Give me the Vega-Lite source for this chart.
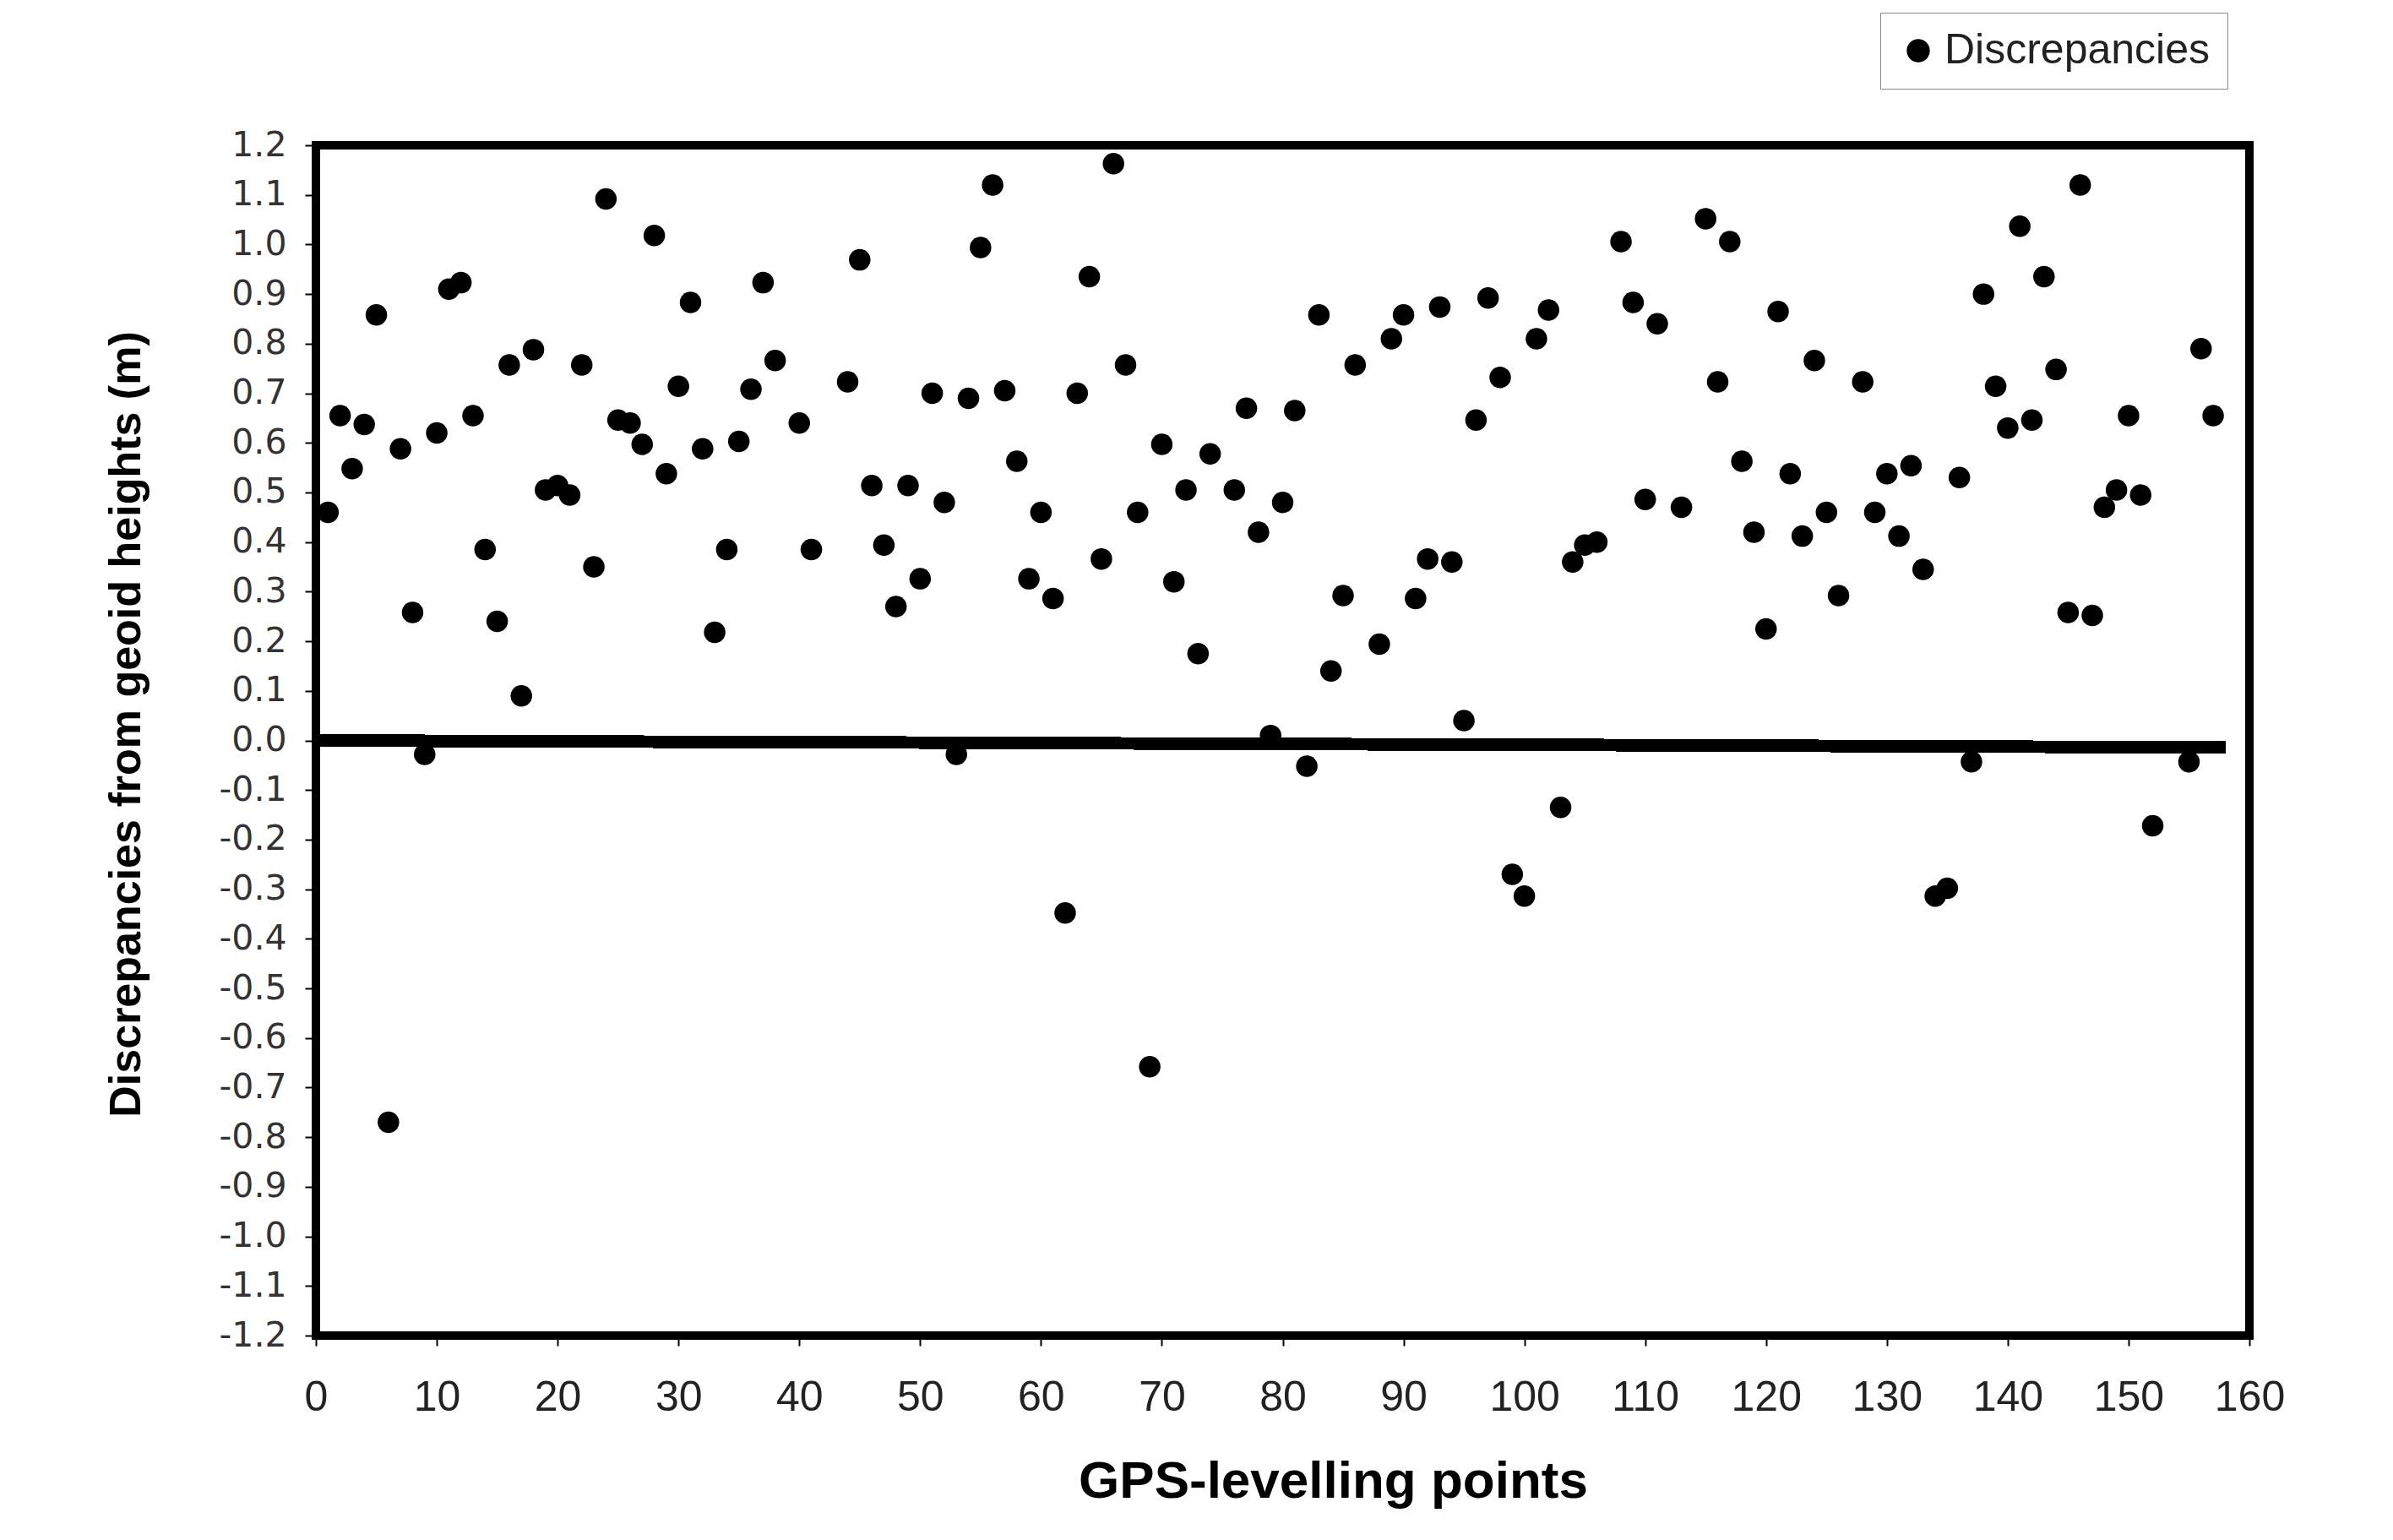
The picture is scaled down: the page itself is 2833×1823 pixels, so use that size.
{
  "$schema": "https://vega.github.io/schema/vega-lite/v6.json",
  "width": 2289,
  "height": 1409,
  "autosize": "none",
  "padding": {"left": 374, "top": 172, "right": 170, "bottom": 242},
  "background": "white",
  "config": {
    "view": {"stroke": "black", "strokeWidth": 10},
    "axis": {"grid": false, "domain": false, "tickColor": "black", "tickWidth": 2}
  },
  "data": {
    "values": [
      {"point": 1, "d": 0.46, "series": "Discrepancies"},
      {"point": 2, "d": 0.655, "series": "Discrepancies"},
      {"point": 3, "d": 0.548, "series": "Discrepancies"},
      {"point": 4, "d": 0.637, "series": "Discrepancies"},
      {"point": 5, "d": 0.858, "series": "Discrepancies"},
      {"point": 6, "d": -0.77, "series": "Discrepancies"},
      {"point": 7, "d": 0.588, "series": "Discrepancies"},
      {"point": 8, "d": 0.258, "series": "Discrepancies"},
      {"point": 9, "d": -0.028, "series": "Discrepancies"},
      {"point": 10, "d": 0.62, "series": "Discrepancies"},
      {"point": 11, "d": 0.91, "series": "Discrepancies"},
      {"point": 12, "d": 0.923, "series": "Discrepancies"},
      {"point": 13, "d": 0.655, "series": "Discrepancies"},
      {"point": 14, "d": 0.385, "series": "Discrepancies"},
      {"point": 15, "d": 0.24, "series": "Discrepancies"},
      {"point": 16, "d": 0.757, "series": "Discrepancies"},
      {"point": 17, "d": 0.09, "series": "Discrepancies"},
      {"point": 18, "d": 0.788, "series": "Discrepancies"},
      {"point": 19, "d": 0.505, "series": "Discrepancies"},
      {"point": 20, "d": 0.514, "series": "Discrepancies"},
      {"point": 21, "d": 0.495, "series": "Discrepancies"},
      {"point": 22, "d": 0.757, "series": "Discrepancies"},
      {"point": 23, "d": 0.35, "series": "Discrepancies"},
      {"point": 24, "d": 1.092, "series": "Discrepancies"},
      {"point": 25, "d": 0.646, "series": "Discrepancies"},
      {"point": 26, "d": 0.64, "series": "Discrepancies"},
      {"point": 27, "d": 0.597, "series": "Discrepancies"},
      {"point": 28, "d": 1.018, "series": "Discrepancies"},
      {"point": 29, "d": 0.538, "series": "Discrepancies"},
      {"point": 30, "d": 0.714, "series": "Discrepancies"},
      {"point": 31, "d": 0.883, "series": "Discrepancies"},
      {"point": 32, "d": 0.588, "series": "Discrepancies"},
      {"point": 33, "d": 0.218, "series": "Discrepancies"},
      {"point": 34, "d": 0.385, "series": "Discrepancies"},
      {"point": 35, "d": 0.603, "series": "Discrepancies"},
      {"point": 36, "d": 0.708, "series": "Discrepancies"},
      {"point": 37, "d": 0.923, "series": "Discrepancies"},
      {"point": 38, "d": 0.766, "series": "Discrepancies"},
      {"point": 40, "d": 0.64, "series": "Discrepancies"},
      {"point": 41, "d": 0.385, "series": "Discrepancies"},
      {"point": 44, "d": 0.723, "series": "Discrepancies"},
      {"point": 45, "d": 0.969, "series": "Discrepancies"},
      {"point": 46, "d": 0.514, "series": "Discrepancies"},
      {"point": 47, "d": 0.394, "series": "Discrepancies"},
      {"point": 48, "d": 0.27, "series": "Discrepancies"},
      {"point": 49, "d": 0.514, "series": "Discrepancies"},
      {"point": 50, "d": 0.326, "series": "Discrepancies"},
      {"point": 51, "d": 0.7, "series": "Discrepancies"},
      {"point": 52, "d": 0.48, "series": "Discrepancies"},
      {"point": 53, "d": -0.028, "series": "Discrepancies"},
      {"point": 54, "d": 0.69, "series": "Discrepancies"},
      {"point": 55, "d": 0.994, "series": "Discrepancies"},
      {"point": 56, "d": 1.12, "series": "Discrepancies"},
      {"point": 57, "d": 0.705, "series": "Discrepancies"},
      {"point": 58, "d": 0.563, "series": "Discrepancies"},
      {"point": 59, "d": 0.326, "series": "Discrepancies"},
      {"point": 60, "d": 0.46, "series": "Discrepancies"},
      {"point": 61, "d": 0.286, "series": "Discrepancies"},
      {"point": 62, "d": -0.348, "series": "Discrepancies"},
      {"point": 63, "d": 0.7, "series": "Discrepancies"},
      {"point": 64, "d": 0.935, "series": "Discrepancies"},
      {"point": 65, "d": 0.366, "series": "Discrepancies"},
      {"point": 66, "d": 1.163, "series": "Discrepancies"},
      {"point": 67, "d": 0.757, "series": "Discrepancies"},
      {"point": 68, "d": 0.46, "series": "Discrepancies"},
      {"point": 69, "d": -0.658, "series": "Discrepancies"},
      {"point": 70, "d": 0.597, "series": "Discrepancies"},
      {"point": 71, "d": 0.32, "series": "Discrepancies"},
      {"point": 72, "d": 0.505, "series": "Discrepancies"},
      {"point": 73, "d": 0.175, "series": "Discrepancies"},
      {"point": 74, "d": 0.578, "series": "Discrepancies"},
      {"point": 76, "d": 0.505, "series": "Discrepancies"},
      {"point": 77, "d": 0.67, "series": "Discrepancies"},
      {"point": 78, "d": 0.42, "series": "Discrepancies"},
      {"point": 79, "d": 0.01, "series": "Discrepancies"},
      {"point": 80, "d": 0.48, "series": "Discrepancies"},
      {"point": 81, "d": 0.665, "series": "Discrepancies"},
      {"point": 82, "d": -0.052, "series": "Discrepancies"},
      {"point": 83, "d": 0.858, "series": "Discrepancies"},
      {"point": 84, "d": 0.14, "series": "Discrepancies"},
      {"point": 85, "d": 0.292, "series": "Discrepancies"},
      {"point": 86, "d": 0.757, "series": "Discrepancies"},
      {"point": 88, "d": 0.194, "series": "Discrepancies"},
      {"point": 89, "d": 0.81, "series": "Discrepancies"},
      {"point": 90, "d": 0.858, "series": "Discrepancies"},
      {"point": 91, "d": 0.286, "series": "Discrepancies"},
      {"point": 92, "d": 0.366, "series": "Discrepancies"},
      {"point": 93, "d": 0.874, "series": "Discrepancies"},
      {"point": 94, "d": 0.36, "series": "Discrepancies"},
      {"point": 95, "d": 0.04, "series": "Discrepancies"},
      {"point": 96, "d": 0.646, "series": "Discrepancies"},
      {"point": 97, "d": 0.892, "series": "Discrepancies"},
      {"point": 98, "d": 0.732, "series": "Discrepancies"},
      {"point": 99, "d": -0.27, "series": "Discrepancies"},
      {"point": 100, "d": -0.314, "series": "Discrepancies"},
      {"point": 101, "d": 0.81, "series": "Discrepancies"},
      {"point": 102, "d": 0.868, "series": "Discrepancies"},
      {"point": 103, "d": -0.135, "series": "Discrepancies"},
      {"point": 104, "d": 0.36, "series": "Discrepancies"},
      {"point": 105, "d": 0.394, "series": "Discrepancies"},
      {"point": 106, "d": 0.4, "series": "Discrepancies"},
      {"point": 108, "d": 1.006, "series": "Discrepancies"},
      {"point": 109, "d": 0.883, "series": "Discrepancies"},
      {"point": 110, "d": 0.486, "series": "Discrepancies"},
      {"point": 111, "d": 0.84, "series": "Discrepancies"},
      {"point": 113, "d": 0.47, "series": "Discrepancies"},
      {"point": 115, "d": 1.052, "series": "Discrepancies"},
      {"point": 116, "d": 0.723, "series": "Discrepancies"},
      {"point": 117, "d": 1.006, "series": "Discrepancies"},
      {"point": 118, "d": 0.563, "series": "Discrepancies"},
      {"point": 119, "d": 0.42, "series": "Discrepancies"},
      {"point": 120, "d": 0.225, "series": "Discrepancies"},
      {"point": 121, "d": 0.865, "series": "Discrepancies"},
      {"point": 122, "d": 0.538, "series": "Discrepancies"},
      {"point": 123, "d": 0.412, "series": "Discrepancies"},
      {"point": 124, "d": 0.766, "series": "Discrepancies"},
      {"point": 125, "d": 0.46, "series": "Discrepancies"},
      {"point": 126, "d": 0.292, "series": "Discrepancies"},
      {"point": 128, "d": 0.723, "series": "Discrepancies"},
      {"point": 129, "d": 0.46, "series": "Discrepancies"},
      {"point": 130, "d": 0.538, "series": "Discrepancies"},
      {"point": 131, "d": 0.412, "series": "Discrepancies"},
      {"point": 132, "d": 0.554, "series": "Discrepancies"},
      {"point": 133, "d": 0.345, "series": "Discrepancies"},
      {"point": 134, "d": -0.314, "series": "Discrepancies"},
      {"point": 135, "d": -0.298, "series": "Discrepancies"},
      {"point": 136, "d": 0.53, "series": "Discrepancies"},
      {"point": 137, "d": -0.043, "series": "Discrepancies"},
      {"point": 138, "d": 0.9, "series": "Discrepancies"},
      {"point": 139, "d": 0.714, "series": "Discrepancies"},
      {"point": 140, "d": 0.63, "series": "Discrepancies"},
      {"point": 141, "d": 1.037, "series": "Discrepancies"},
      {"point": 142, "d": 0.646, "series": "Discrepancies"},
      {"point": 143, "d": 0.935, "series": "Discrepancies"},
      {"point": 144, "d": 0.748, "series": "Discrepancies"},
      {"point": 145, "d": 0.258, "series": "Discrepancies"},
      {"point": 146, "d": 1.12, "series": "Discrepancies"},
      {"point": 147, "d": 0.252, "series": "Discrepancies"},
      {"point": 148, "d": 0.47, "series": "Discrepancies"},
      {"point": 149, "d": 0.505, "series": "Discrepancies"},
      {"point": 150, "d": 0.655, "series": "Discrepancies"},
      {"point": 151, "d": 0.495, "series": "Discrepancies"},
      {"point": 152, "d": -0.172, "series": "Discrepancies"},
      {"point": 155, "d": -0.043, "series": "Discrepancies"},
      {"point": 156, "d": 0.79, "series": "Discrepancies"},
      {"point": 157, "d": 0.655, "series": "Discrepancies"}
    ]
  },
  "layer": [
    {
      "mark": {"type": "point", "filled": true, "size": 650, "opacity": 1, "shape": "circle"},
      "encoding": {
        "x": {
          "field": "point", "type": "quantitative",
          "scale": {"domain": [0, 160], "nice": false, "zero": false},
          "axis": {
            "values": [0, 10, 20, 30, 40, 50, 60, 70, 80, 90, 100, 110, 120, 130, 140, 150, 160],
            "tickSize": 12,
            "labelFlush": false,
            "labelFont": "Liberation Sans", "labelFontSize": 50, "labelColor": "#222",
            "labelPadding": 36,
            "title": "GPS-levelling points",
            "titleFont": "Liberation Sans", "titleFontSize": 62, "titleFontWeight": "bold", "titleColor": "black",
            "titleX": 1204, "titleY": 191, "titleBaseline": "alphabetic", "titleAlign": "center"
          }
        },
        "y": {
          "field": "d", "type": "quantitative",
          "scale": {"domain": [-1.2, 1.2], "nice": false, "zero": false},
          "axis": {
            "values": [-1.2, -1.1, -1.0, -0.9, -0.8, -0.7, -0.6, -0.5, -0.4, -0.3, -0.2, -0.1, 0, 0.1, 0.2, 0.3, 0.4, 0.5, 0.6, 0.7, 0.8, 0.9, 1.0, 1.1, 1.2],
            "labelExpr": "replace(format(datum.value, '.1f'), '\u2212', '-')",
            "tickSize": 13,
            "labelFont": "DejaVu Sans", "labelFontSize": 41, "labelColor": "#333",
            "labelPadding": 22,
            "title": "Discrepancies from geoid heights (m)",
            "titleFont": "Liberation Sans", "titleFontSize": 52, "titleFontWeight": "bold", "titleColor": "black",
            "titleAngle": -90, "titleX": -225, "titleY": 685, "titleBaseline": "middle", "titleAlign": "center"
          }
        },
        "color": {
          "field": "series", "type": "nominal",
          "scale": {"range": ["black"]},
          "legend": {
            "orient": "none", "legendX": 1852, "legendY": -157,
            "title": null,
            "strokeColor": "#888", "fillColor": "white",
            "padding": 20,
            "symbolType": "circle", "symbolSize": 750, "symbolStrokeWidth": 0, "symbolFillColor": "black",
            "labelFont": "Liberation Sans", "labelFontSize": 50, "labelColor": "#222", "labelOffset": 6,
            "labelLimit": 0
          }
        }
      }
    },
    {
      "mark": {"type": "rule", "color": "black", "strokeWidth": 14},
      "encoding": {
        "x": {"datum": 0, "type": "quantitative"},
        "x2": {"datum": 158},
        "y": {"datum": 0, "type": "quantitative"},
        "y2": {"datum": -0.014}
      }
    }
  ]
}
